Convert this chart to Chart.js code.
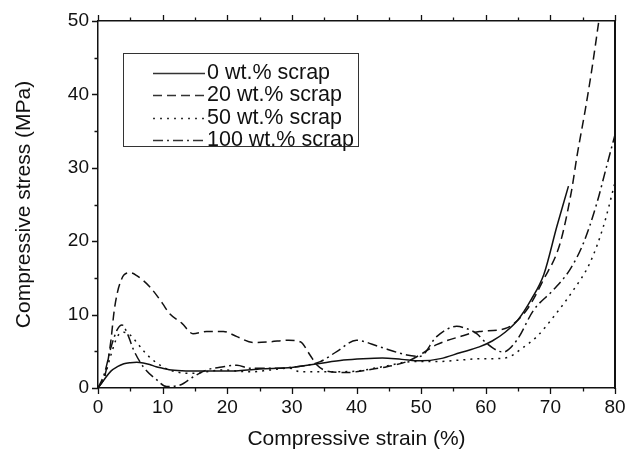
<!DOCTYPE html>
<html>
<head>
<meta charset="utf-8">
<script src="https://cdn.jsdelivr.net/npm/chart.js@4.4.0/dist/chart.umd.min.js"></script>
<style>
  html, body { margin: 0; padding: 0; background: #fff; }
</style>
</head>
<body>
<canvas id="stressChart" width="629" height="455"></canvas>
<script>
// strain (%) / stress (MPa)
const seriesNames = ['0 wt.% scrap', '20 wt.% scrap', '50 wt.% scrap', '100 wt.% scrap'];

const strain0 = [0, 1, 2, 3, 4, 5, 6, 7, 8, 9, 10, 11, 13, 16, 20, 25, 30, 34, 38, 41, 44, 47, 50, 53, 56, 59, 61, 63, 65, 67, 69, 71, 72.8];
const stress0 = [0, 1.2, 2.3, 2.9, 3.3, 3.45, 3.5, 3.4, 3.2, 2.9, 2.7, 2.5, 2.35, 2.3, 2.3, 2.6, 2.8, 3.3, 3.8, 4.0, 4.1, 3.9, 3.7, 4.0, 4.8, 5.6, 6.4, 7.6, 9.3, 12, 15.5, 22, 27.5];

const strain20 = [0, 1, 1.5, 2, 2.5, 3, 3.5, 4, 5, 6, 8, 10, 11, 13, 14.7, 16.8, 19.4, 21.5, 24, 26.6, 29.5, 31.3, 32.8, 33.8, 35.5, 38.5, 41.6, 44.7, 47.8, 49.8, 52.4, 56, 59, 63, 66.3, 68.9, 71.5, 73.3, 74.1, 75.4, 76.4, 77.5];
const stress20 = [0, 1.5, 3.5, 6.5, 10.5, 13, 14.5, 15.4, 15.7, 15.3, 13.8, 11.5, 10.2, 8.8, 7.4, 7.7, 7.7, 7.0, 6.2, 6.3, 6.5, 6.3, 4.5, 3.2, 2.3, 2.1, 2.45, 2.9, 3.6, 4.5, 5.9, 7.0, 7.7, 8.1, 10.6, 14.7, 19.7, 27, 31.5, 37.9, 43.3, 50];

const strain50 = [0, 1, 2, 3, 4, 5, 6, 7.3, 9.1, 11.1, 14.2, 19.4, 23.5, 26.6, 29.7, 31.3, 35.4, 40, 44, 48.8, 52.4, 56, 59.1, 61.2, 63.8, 65.3, 67.9, 70.5, 73.6, 76.1, 78.2, 80];
const stress50 = [0, 1.5, 4.5, 7.0, 7.6, 7.2, 6.2, 4.8, 3.4, 2.45, 2.0, 2.45, 2.2, 2.45, 2.7, 2.2, 2.2, 2.3, 2.9, 3.6, 3.6, 3.8, 4.0, 4.0, 4.3, 5.2, 7.0, 9.7, 13.4, 17.0, 22, 28];

const strain100 = [0, 1, 2, 3, 3.7, 4.5, 5.5, 7, 9.1, 10.6, 12.7, 14.7, 16.8, 19.4, 21.5, 23.5, 26.6, 29.7, 34.4, 37, 40, 43.6, 47.8, 49.8, 52.4, 55.5, 57, 58.6, 60.1, 62.7, 64.8, 67.4, 70.5, 73, 75.1, 77.2, 78.7, 80];
const stress100 = [0, 2, 5.5, 8.0, 8.6, 7.5, 5.2, 2.9, 1.1, 0.2, 0.4, 1.5, 2.45, 2.9, 3.1, 2.7, 2.7, 2.8, 3.6, 5.0, 6.5, 5.6, 4.5, 4.3, 7.0, 8.4, 8.1, 7.4, 6.1, 4.9, 6.5, 10.6, 13.4, 16.1, 19.7, 25.2, 30.2, 34.5];

const xTicks = [0, 10, 20, 30, 40, 50, 60, 70, 80];
const yTicks = [0, 10, 20, 30, 40, 50];

const FONT = "'Liberation Sans', Arial, sans-serif";
const INK = '#111';

function toPoints(xs, ys) {
    return xs.map((x, i) => ({ x: x, y: ys[i] }));
}

function lineSet(label, xs, ys, dash) {
    return {
        label: label,
        data: toPoints(xs, ys),
        borderColor: INK,
        borderWidth: 1.5,
        borderDash: dash,
        pointRadius: 0,
        fill: false,
        cubicInterpolationMode: 'monotone'
    };
}

// tick marks: long on tens, short on fives, outside the frame
const tickMarks = {
    id: 'tickMarks',
    afterDraw(chart) {
        const ctx = chart.ctx;
        const xs = chart.scales.x, ys = chart.scales.y;
        const area = chart.chartArea;
        ctx.save();
        ctx.strokeStyle = INK;
        ctx.lineWidth = 1.3;
        ctx.beginPath();
        for (let v = 0; v <= 80; v += 5) {
            const px = Math.round(xs.getPixelForValue(v)) + 0.5;
            const len = v % 10 === 0 ? 6 : 3.5;
            ctx.moveTo(px, area.bottom);
            ctx.lineTo(px, area.bottom + len);
            ctx.moveTo(px, area.top);
            ctx.lineTo(px, area.top - len);
        }
        for (let v = 0; v <= 50; v += 5) {
            const py = Math.round(ys.getPixelForValue(v)) + 0.5;
            const len = v % 10 === 0 ? 6 : 3.5;
            ctx.moveTo(area.left, py);
            ctx.lineTo(area.left - len, py);
        }
        ctx.stroke();
        ctx.restore();
    }
};

// boxed legend inside the plot, upper left
const boxLegend = {
    id: 'boxLegend',
    afterDraw(chart) {
        const ctx = chart.ctx;
        const area = chart.chartArea;
        const left = area.left + 25, top = area.top + 32;
        const w = 235, h = 93;
        ctx.save();
        ctx.strokeStyle = '#333';
        ctx.lineWidth = 1;
        ctx.strokeRect(left + 0.5, top + 0.5, w, h);
        ctx.font = '21.5px ' + FONT;
        ctx.fillStyle = INK;
        ctx.textBaseline = 'middle';
        chart.data.datasets.forEach((ds, i) => {
            const cy = Math.round(top + 19.5 + i * 22.5) + 0.5;
            ctx.beginPath();
            ctx.setLineDash(ds.borderDash || []);
            ctx.lineWidth = ds.borderWidth;
            ctx.moveTo(left + 30, cy);
            ctx.lineTo(left + 82, cy);
            ctx.stroke();
            ctx.setLineDash([]);
            ctx.fillText(ds.label, left + 84, cy);
        });
        ctx.restore();
    }
};

const ctx = document.getElementById('stressChart').getContext('2d');
new Chart(ctx, {
    type: 'line',
    data: {
        datasets: [
            lineSet(seriesNames[0], strain0, stress0, []),
            lineSet(seriesNames[1], strain20, stress20, [9, 5]),
            lineSet(seriesNames[2], strain50, stress50, [2, 5]),
            lineSet(seriesNames[3], strain100, stress100, [10, 4, 2, 4])
        ]
    },
    options: {
        responsive: false,
        animation: false,
        events: [],
        layout: { padding: 0 },
        plugins: {
            legend: { display: false },
            tooltip: { enabled: false }
        },
        scales: {
            x: {
                type: 'linear',
                position: 'bottom',
                min: 0,
                max: 80,
                afterBuildTicks: s => { s.ticks = xTicks.map(v => ({ value: v })); },
                afterFit: s => { s.height = 67; s.paddingLeft = 0; s.paddingRight = 0; },
                grid: { display: false, drawTicks: false },
                border: { display: true, color: INK, width: 1.5 },
                ticks: { color: INK, padding: 8, font: { family: FONT, size: 19 }, maxRotation: 0 },
                title: {
                    display: true,
                    text: 'Compressive strain (%)',
                    color: INK,
                    font: { family: FONT, size: 21 },
                    padding: { top: 0, bottom: 3 }
                }
            },
            y: {
                type: 'linear',
                position: 'left',
                min: 0,
                max: 50,
                afterBuildTicks: s => { s.ticks = yTicks.map(v => ({ value: v })); },
                afterFit: s => { s.width = 98; s.paddingTop = 0; s.paddingBottom = 0; },
                grid: { display: false, drawTicks: false },
                border: { display: true, color: INK, width: 1.5 },
                ticks: { color: INK, padding: 9, font: { family: FONT, size: 19 } },
                title: {
                    display: true,
                    text: 'Compressive stress (MPa)',
                    color: INK,
                    font: { family: FONT, size: 21 },
                    padding: { top: 12, bottom: 0 }
                }
            },
            xTop: {
                type: 'linear',
                position: 'top',
                min: 0,
                max: 80,
                afterFit: s => { s.height = 21; s.paddingLeft = 0; s.paddingRight = 0; },
                grid: { display: false, drawTicks: false },
                border: { display: true, color: INK, width: 1.5 },
                ticks: { display: false }
            },
            yRight: {
                type: 'linear',
                position: 'right',
                min: 0,
                max: 50,
                afterFit: s => { s.width = 14; s.paddingTop = 0; s.paddingBottom = 0; },
                grid: { display: false, drawTicks: false },
                border: { display: true, color: INK, width: 2 },
                ticks: { display: false }
            }
        }
    },
    plugins: [tickMarks, boxLegend]
});
</script>
</body>
</html>
